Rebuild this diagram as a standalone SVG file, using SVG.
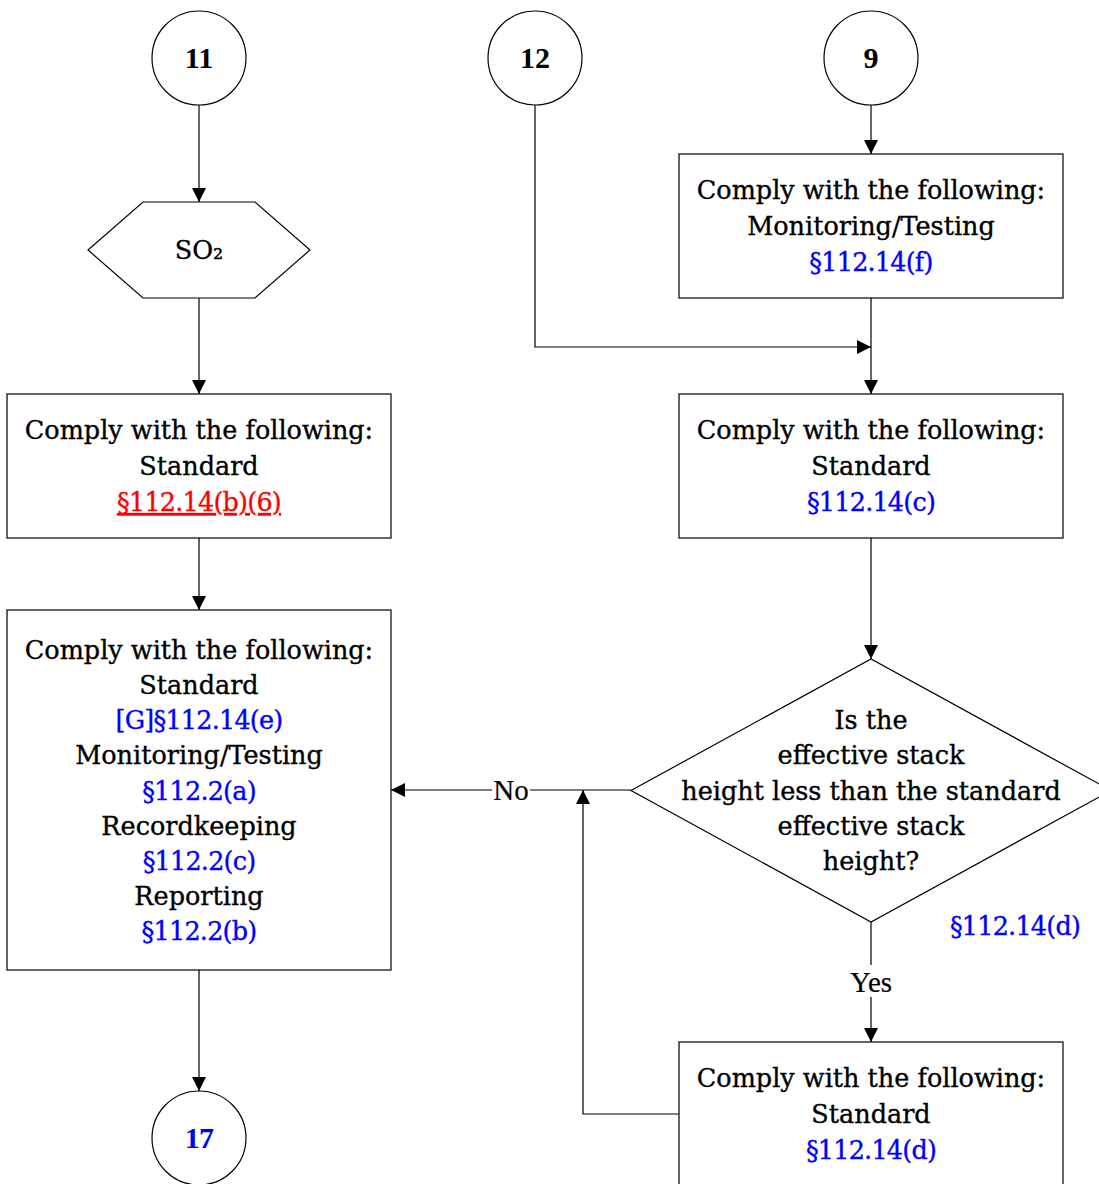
<svg xmlns="http://www.w3.org/2000/svg" width="1099" height="1184" viewBox="0 0 1099 1184">
<style>
.s{fill:#fff;stroke:#000;stroke-width:1.2}
.c{fill:none;stroke:#000;stroke-width:1.2}
text{font-family:"DejaVu Serif","Liberation Serif",serif;font-size:25.5px;text-anchor:middle;fill:#000;stroke:#000;stroke-width:0.35}
.b{fill:#0000ff;stroke:#0000ff;letter-spacing:-0.8px}
.r{fill:#ff0000;stroke:#ff0000;text-decoration:underline;letter-spacing:-0.8px}
.lbl{font-family:"Liberation Serif",serif;font-size:29px;stroke-width:0.2}
.n{font-family:"Liberation Serif",serif;font-size:30px;font-weight:bold;stroke-width:0}
</style>
<defs>
<marker id="a" viewBox="0 0 10 10" refX="10" refY="5" markerWidth="14" markerHeight="14" markerUnits="userSpaceOnUse" orient="auto"><path d="M0,0L10,5L0,10z" fill="#000"/></marker>
</defs>
<g id="connectors">
<path class="c" d="M199,105V202" marker-end="url(#a)"/>
<path class="c" d="M199,298V394" marker-end="url(#a)"/>
<path class="c" d="M199,538V610" marker-end="url(#a)"/>
<path class="c" d="M199,970V1091" marker-end="url(#a)"/>
<path class="c" d="M871,105V154" marker-end="url(#a)"/>
<path class="c" d="M535,105V347H871" marker-end="url(#a)"/>
<path class="c" d="M871,298V394" marker-end="url(#a)"/>
<path class="c" d="M871,538V659" marker-end="url(#a)"/>
<path class="c" d="M631,790H391" marker-end="url(#a)"/>
<path class="c" d="M871,922V1042" marker-end="url(#a)"/>
<path class="c" d="M679,1114H583V790" marker-end="url(#a)"/>
<rect x="492" y="775" width="38" height="30" fill="#fff"/>
<text class="lbl" x="511" y="800">No</text>
<rect x="847" y="965" width="48" height="32" fill="#fff"/>
<text class="lbl" x="871" y="992">Yes</text>
</g>
<g id="n11"><circle class="s" cx="199" cy="58" r="47"/><text class="n" x="199" y="68">11</text></g>
<g id="n12"><circle class="s" cx="535" cy="58" r="47"/><text class="n" x="535" y="68">12</text></g>
<g id="n9"><circle class="s" cx="871" cy="58" r="47"/><text class="n" x="871" y="68">9</text></g>
<g id="so2"><path class="s" d="M88,250L143,202H255L310,250L255,298H143Z"/><text x="199" y="259">SO₂</text></g>
<g id="box1"><rect class="s" x="7" y="394" width="384" height="144"/>
<text x="199" y="439">Comply with the following:</text>
<text x="199" y="475">Standard</text>
<text class="r" x="199" y="511">§112.14(b)(6)</text></g>
<g id="box2"><rect class="s" x="7" y="610" width="384" height="360"/>
<text x="199" y="659">Comply with the following:</text>
<text x="199" y="694">Standard</text>
<text class="b" x="199" y="729">[G]§112.14(e)</text>
<text x="199" y="764">Monitoring/Testing</text>
<text class="b" x="199" y="800">§112.2(a)</text>
<text x="199" y="835">Recordkeeping</text>
<text class="b" x="199" y="870">§112.2(c)</text>
<text x="199" y="905">Reporting</text>
<text class="b" x="199" y="940">§112.2(b)</text></g>
<g id="n17"><circle class="s" cx="199" cy="1138" r="47"/><text class="n b" x="199" y="1148">17</text></g>
<g id="box9"><rect class="s" x="679" y="154" width="384" height="144"/>
<text x="871" y="199">Comply with the following:</text>
<text x="871" y="235">Monitoring/Testing</text>
<text class="b" x="871" y="271">§112.14(f)</text></g>
<g id="boxc"><rect class="s" x="679" y="394" width="384" height="144"/>
<text x="871" y="439">Comply with the following:</text>
<text x="871" y="475">Standard</text>
<text class="b" x="871" y="511">§112.14(c)</text></g>
<g id="dec"><path class="s" d="M631,790.5L871,659L1111,790.5L871,922Z"/>
<text x="871" y="729">Is the</text>
<text x="871" y="764">effective stack</text>
<text x="871" y="800">height less than the standard</text>
<text x="871" y="835">effective stack</text>
<text x="871" y="870">height?</text>
<text class="b" x="1015" y="935">§112.14(d)</text></g>
<g id="boxd"><rect class="s" x="679" y="1042" width="384" height="160"/>
<text x="871" y="1087">Comply with the following:</text>
<text x="871" y="1123">Standard</text>
<text class="b" x="871" y="1159">§112.14(d)</text></g>
</svg>
